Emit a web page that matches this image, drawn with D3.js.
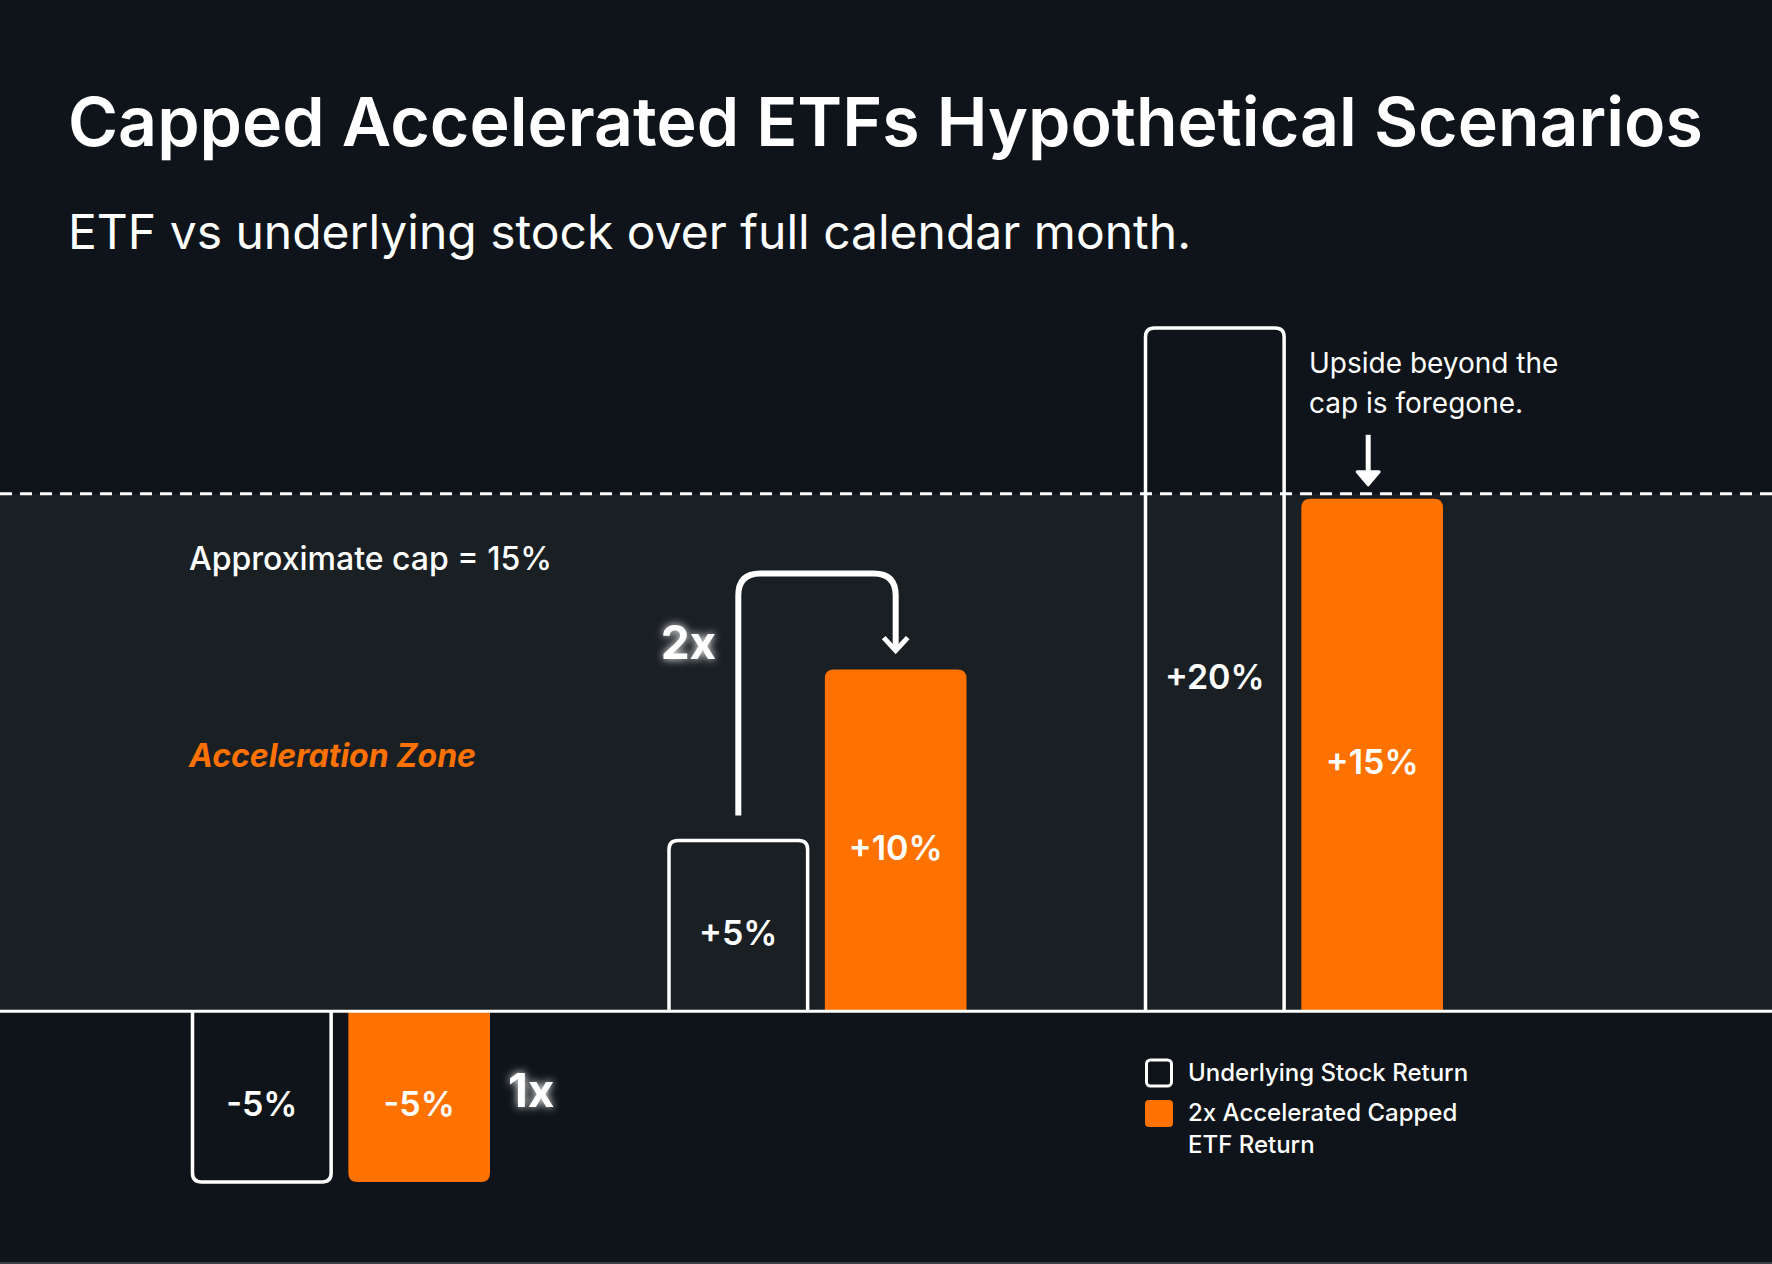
<!DOCTYPE html>
<html>
<head>
<meta charset="utf-8">
<script src="https://cdn.jsdelivr.net/npm/d3@7"></script>
<style>
  html, body { margin: 0; padding: 0; background: #0e1419; }
  svg { display: block; }
  text { font-family: Inter, "Noto Sans", sans-serif; fill: #fff; }
</style>
</head>
<body>
<div id="chart"></div>
<script>
// data
const scenarios = ["Down month", "Moderate month", "Strong month"];
const stockReturns = [-5, 5, 20];
const etfReturns = [-5, 10, 15];
const capLevel = 15;
const series = ["stock", "etf"];
const legendLabels = [["Underlying Stock Return"], ["2x Accelerated Capped", "ETF Return"]];

const W = 1772, H = 1264;
const orange = "#ff7200";
const dark = "#0e1419";
const panel = "#1a1f24";

const svg = d3.select("#chart").append("svg")
  .attr("width", W).attr("height", H);

const defs = svg.append("defs");
const glow = defs.append("filter").attr("id", "glow")
  .attr("x", "-50%").attr("y", "-50%").attr("width", "200%").attr("height", "200%");
glow.append("feGaussianBlur").attr("in", "SourceGraphic").attr("stdDeviation", 4).attr("result", "b");
const merge = glow.append("feMerge");
merge.append("feMergeNode").attr("in", "b");
merge.append("feMergeNode").attr("in", "SourceGraphic");

svg.append("rect").attr("width", W).attr("height", H).attr("fill", dark);

// scales
const y = d3.scaleLinear().domain([-5, 20]).range([1182, 328]);
const x0 = d3.scaleBand().domain(scenarios).range([191, 1443]).paddingInner(0.3725).paddingOuter(0);
const x1 = d3.scaleBand().domain(series).range([0, x0.bandwidth()]).paddingInner(0.1);

const rows = scenarios.map((s, i) => ({ scenario: s, stock: stockReturns[i], etf: etfReturns[i] }));

// acceleration zone panel
const capY = y(capLevel) - 5;
svg.append("rect")
  .attr("x", 0).attr("y", capY)
  .attr("width", W).attr("height", y(0) - capY)
  .attr("fill", panel);

function barPath(x, w, v, r, closed) {
  const b = y(0), t = y(v);
  const s = v >= 0 ? 1 : -1;
  let p = `M${x},${b} V${t + s * r} Q${x},${t} ${x + r},${t} H${x + w - r} Q${x + w},${t} ${x + w},${t + s * r} V${b}`;
  return closed ? p + "Z" : p;
}

const groups = svg.append("g").selectAll("g").data(rows).join("g")
  .attr("transform", d => `translate(${x0(d.scenario)},0)`);

// underlying stock bars (outline)
groups.append("path")
  .attr("d", d => barPath(x1("stock") + 1.5, x1.bandwidth() - 3, d.stock, 9, false))
  .attr("fill", "none").attr("stroke", "#fff").attr("stroke-width", 3.5);

// etf bars (filled)
groups.append("path")
  .attr("d", d => barPath(x1("etf"), x1.bandwidth(), d.etf, 9, true))
  .attr("fill", orange);

const fmt = v => (v > 0 ? "+" : "") + v + "%";

groups.append("text")
  .attr("x", x1("stock") + x1.bandwidth() / 2)
  .attr("y", d => (y(0) + y(d.stock)) / 2 + 10)
  .attr("text-anchor", "middle").attr("dominant-baseline", "middle")
  .attr("font-size", 34).attr("font-weight", 600)
  .text(d => fmt(d.stock));

groups.append("text")
  .attr("x", x1("etf") + x1.bandwidth() / 2)
  .attr("y", d => (y(0) + y(d.etf)) / 2 + 10)
  .attr("text-anchor", "middle").attr("dominant-baseline", "middle")
  .attr("font-size", 34).attr("font-weight", 600)
  .text(d => fmt(d.etf));

// cap dashed line
svg.append("line")
  .attr("x1", 0).attr("x2", W).attr("y1", capY).attr("y2", capY)
  .attr("stroke", "#fff").attr("stroke-width", 3).attr("stroke-dasharray", "12 8");

// zero line
svg.append("line")
  .attr("x1", 0).attr("x2", W).attr("y1", y(0)).attr("y2", y(0))
  .attr("stroke", "#fff").attr("stroke-width", 3);

// bottom border
svg.append("line")
  .attr("x1", 0).attr("x2", W).attr("y1", H - 1).attr("y2", H - 1)
  .attr("stroke", "#3b4045").attr("stroke-width", 2);

// 2x connector
const mid = rows[1];
const sx = x0(mid.scenario) + x1("stock") + x1.bandwidth() / 2;
const ex = x0(mid.scenario) + x1("etf") + x1.bandwidth() / 2;
const topY = y(mid.etf) - 96, r = 22;
const tipY = y(mid.etf) - 19;
svg.append("path")
  .attr("d", `M${sx},${y(mid.stock) - 25} V${topY + r} Q${sx},${topY} ${sx + r},${topY} H${ex - r} Q${ex},${topY} ${ex},${topY + r} V${tipY - 3}`)
  .attr("fill", "none").attr("stroke", "#fff").attr("stroke-width", 6);
svg.append("path")
  .attr("d", `M${ex - 12},${tipY - 13} L${ex},${tipY} L${ex + 12},${tipY - 13}`)
  .attr("fill", "none").attr("stroke", "#fff").attr("stroke-width", 5).attr("stroke-linejoin", "miter");

// cap arrow
const hi = rows[2];
const ax = x0(hi.scenario) + x1("etf") + x1.bandwidth() / 2 - 4;
svg.append("line")
  .attr("x1", ax).attr("x2", ax).attr("y1", capY - 59).attr("y2", capY - 14)
  .attr("stroke", "#fff").attr("stroke-width", 5);
svg.append("path")
  .attr("d", `M${ax - 11},${capY - 22} L${ax},${capY - 9} L${ax + 11},${capY - 22}Z`)
  .attr("fill", "#fff").attr("stroke", "#fff").attr("stroke-width", 3).attr("stroke-linejoin", "round");

// multiplier labels
svg.append("text").attr("x", sx - 22).attr("y", 659).attr("text-anchor", "end")
  .attr("font-size", 46).attr("font-weight", 700).attr("filter", "url(#glow)").text("2x");
const lo = rows[0];
svg.append("text").attr("x", x0(lo.scenario) + x0.bandwidth() + 18).attr("y", 1107)
  .attr("font-size", 46).attr("font-weight", 700).attr("filter", "url(#glow)").text("1x");

// titles
svg.append("text").attr("x", 68).attr("y", 146)
  .attr("font-size", 68).attr("font-weight", 600).text("Capped Accelerated ETFs Hypothetical Scenarios");
svg.append("text").attr("x", 68).attr("y", 249)
  .attr("font-size", 48).attr("font-weight", 400).text("ETF vs underlying stock over full calendar month.");

// annotations
svg.append("text").attr("x", 189).attr("y", 570)
  .attr("font-size", 32).attr("font-weight", 500).text("Approximate cap = 15%");
svg.append("text").attr("x", 189).attr("y", 767)
  .attr("font-size", 32).attr("font-weight", 700).attr("font-style", "italic")
  .style("fill", orange).text("Acceleration Zone");

const note = svg.append("text").attr("x", 1309).attr("y", 373)
  .attr("font-size", 28).attr("font-weight", 400);
note.append("tspan").attr("x", 1309).attr("dy", 0).text("Upside beyond the");
note.append("tspan").attr("x", 1309).attr("dy", 40).text("cap is foregone.");

// legend
const lx = x0(hi.scenario) + 1;
const leg = svg.append("g");
leg.append("rect").attr("x", lx + 1.5).attr("y", 1060).attr("width", 25).attr("height", 26)
  .attr("rx", 4).attr("fill", "none").attr("stroke", "#fff").attr("stroke-width", 3);
leg.append("rect").attr("x", lx).attr("y", 1100).attr("width", 28).attr("height", 27)
  .attr("rx", 4).attr("fill", orange);
legendLabels.forEach((lines, i) => {
  const t = leg.append("text").attr("x", 1188).attr("y", i === 0 ? 1081 : 1121)
    .attr("font-size", 24).attr("font-weight", 500);
  lines.forEach((ln, j) => t.append("tspan").attr("x", 1188).attr("dy", j === 0 ? 0 : 32).text(ln));
});
</script>
</body>
</html>
